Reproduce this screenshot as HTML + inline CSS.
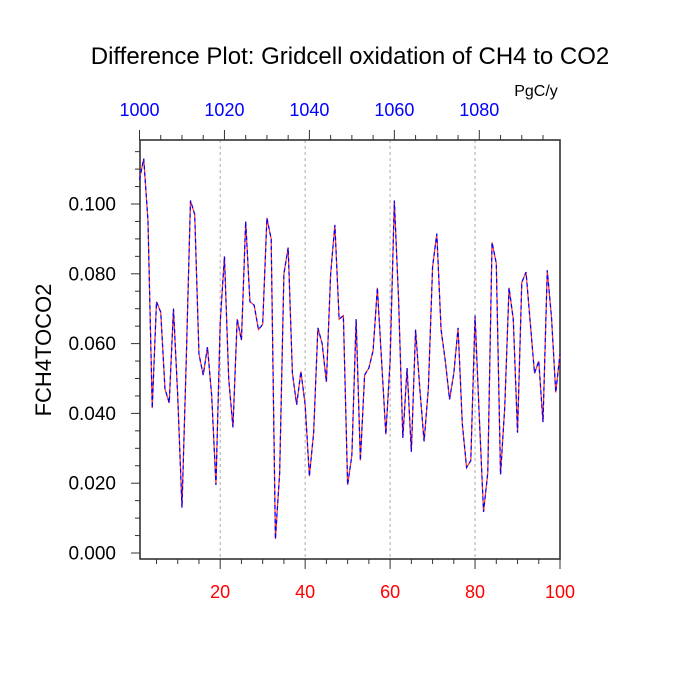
<!DOCTYPE html>
<html><head><meta charset="utf-8"><style>
body{margin:0;background:#fff}
svg{display:block;font-family:"Liberation Sans",sans-serif}
</style></head><body>
<svg id="chart" width="700" height="700" viewBox="0 0 700 700" xmlns="http://www.w3.org/2000/svg">
<rect width="700" height="700" fill="#fff"/>
<text x="350" y="64" font-size="24" text-anchor="middle">Difference Plot: Gridcell oxidation of CH4 to CO2</text>
<text x="536" y="96" font-size="16" text-anchor="middle">PgC/y</text>
<text transform="translate(51,350) rotate(-90)" font-size="22" text-anchor="middle">FCH4TOCO2</text>
<g id="grid"></g>
<g id="axes"></g>
<g id="series"></g>
</svg>
<script>
const categories = Array.from({length:100},(_,i)=>i+1);
const seriesValues = [0.107,0.113,0.095,0.0415,0.072,0.069,0.047,0.043,0.070,0.045,
0.013,0.055,0.101,0.097,0.057,0.051,0.059,0.045,0.0195,0.066,
0.085,0.050,0.036,0.067,0.061,0.095,0.072,0.071,0.064,0.0655,
0.096,0.090,0.004,0.023,0.080,0.0875,0.0515,0.0425,0.052,0.0425,
0.022,0.0345,0.0645,0.060,0.049,0.080,0.094,0.067,0.068,0.0195,
0.028,0.067,0.0265,0.051,0.053,0.058,0.076,0.055,0.034,0.055,
0.101,0.0725,0.033,0.053,0.029,0.064,0.047,0.032,0.047,0.082,
0.0915,0.064,0.055,0.044,0.0515,0.0645,0.037,0.0245,0.0265,0.068,
0.039,0.0118,0.023,0.089,0.083,0.0225,0.042,0.076,0.067,0.0345,
0.0775,0.0805,0.066,0.0515,0.055,0.0375,0.081,0.0675,0.046,0.057];
const yTickValues = [0,0.02,0.04,0.06,0.08,0.1];
const yTickLabels = ["0.000","0.020","0.040","0.060","0.080","0.100"];
const xTickValues = [20,40,60,80,100];
const xTickLabels = ["20","40","60","80","100"];
const topTickYears = [1000,1020,1040,1060,1080];

const NS="http://www.w3.org/2000/svg";
const L=140,R=560,T=140,B=559;
function xs(v){return 139.5+(v-1)*(560-139.5)/99;}
function ys(v){return 553-v*3490;}
function mk(tag,attrs,parent){const e=document.createElementNS(NS,tag);for(const k in attrs)e.setAttribute(k,attrs[k]);parent.appendChild(e);return e;}
const grid=document.getElementById('grid'),axes=document.getElementById('axes'),series=document.getElementById('series');

xTickValues.forEach((v,i)=>{
  if(v<100){const g=mk('line',{x1:xs(v),x2:xs(v),y1:T,y2:B,stroke:'#aaa','stroke-width':1,'stroke-dasharray':'3,3'},grid);
  
  }
});
const box=mk('rect',{x:L,y:T,width:R-L,height:B-T,fill:'none',stroke:'#333','stroke-width':1.6},axes);



for(let v=5;v<=100;v+=5){
  const major=v%20===0;
  const t=mk('line',{x1:xs(v),x2:xs(v),y1:B,y2:B+(major?10:5),stroke:'#333','stroke-width':1},axes);
  
  
}
xTickValues.forEach((v,i)=>{
  const t=mk('text',{x:xs(v),y:598,'font-size':18,fill:'#f00','text-anchor':'middle'},axes);
  t.textContent=xTickLabels[i];
  
  
});
for(let yr=1000;yr<=1099;yr+=5){
  const major=yr%20===0;const x=xs(yr-999);
  const t=mk('line',{x1:x,x2:x,y1:T,y2:T-(major?10:5),stroke:'#333','stroke-width':1},axes);
  
  
}
topTickYears.forEach(yr=>{
  const t=mk('text',{x:xs(yr-999),y:116,'font-size':18,fill:'#00f','text-anchor':'middle'},axes);
  t.textContent=String(yr);
  
  
});
for(let k=0;k<=23;k++){
  const v=k*0.005;const major=k%4===0;
  const t=mk('line',{x1:L,x2:L-(major?9:5),y1:ys(v),y2:ys(v),stroke:'#333','stroke-width':1},axes);
  
  
}
yTickValues.forEach((v,i)=>{
  const t=mk('text',{x:116,y:ys(v)+6.5,'font-size':19,'text-anchor':'end'},axes);
  t.textContent=yTickLabels[i];
  
  
});
const pts=seriesValues.map((v,i)=>xs(categories[i])+','+ys(v)).join(' ');
const red=mk('polyline',{points:pts,fill:'none',stroke:'#f33','stroke-width':1.2},series);


const blue=mk('polyline',{points:pts,fill:'none',stroke:'#00f','stroke-width':1.2,'stroke-dasharray':'4,3'},series);


</script>
</body></html>
